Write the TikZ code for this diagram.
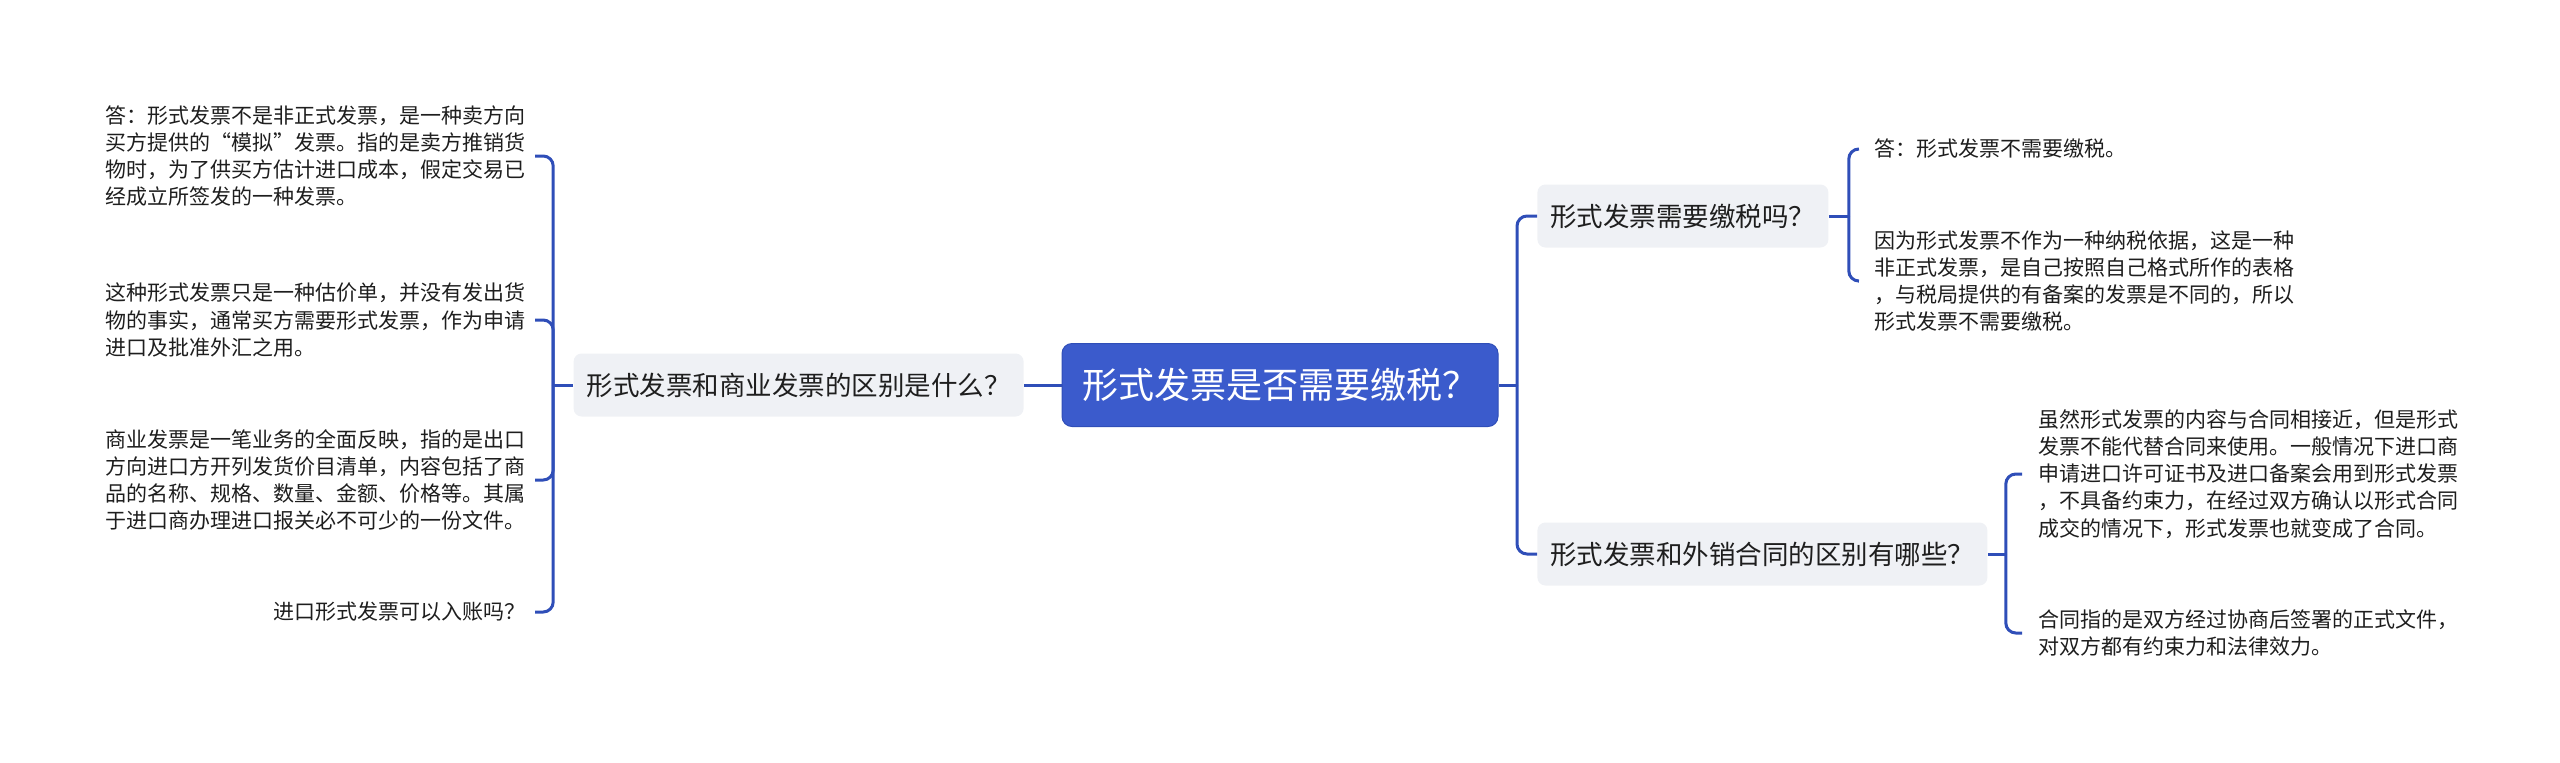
\documentclass[tikz,border=0pt]{standalone}
\usepackage{fontspec}
\newfontfamily\cjk{Noto Sans CJK SC}
\definecolor{mapblue}{RGB}{59,91,204}
\definecolor{linkblue}{RGB}{47,78,184}
\definecolor{subgray}{RGB}{239,241,245}
\definecolor{inktext}{RGB}{30,30,30}

\begin{document}
\begin{tikzpicture}[x=0.5pt,y=-0.5pt,
    link/.style={draw=linkblue,line width=1.5pt,rounded corners=5pt},
    rootbox/.style={fill=mapblue,draw=linkblue,line width=0.5pt,text=white,rounded corners=5pt,font=\cjk\fontsize{18}{22}\selectfont,inner xsep=10pt,minimum height=41.5pt},
    subbox/.style={fill=subgray,text=inktext,rounded corners=4pt,font=\cjk\fontsize{13.25}{16}\selectfont,inner xsep=6.5pt,minimum height=31.5pt},
    leaf/.style={text=inktext,font=\cjk\fontsize{10.5}{13.6}\selectfont,inner ysep=2pt,align=left},
    lleaf/.style={leaf,anchor=east,inner xsep=4.5pt},
    rleaf/.style={leaf,anchor=west,inner xsep=8pt}]
    \useasboundingbox (0,0) rectangle (2560,762);

    \node[rootbox] (root) at (1280,385) {形式发票是否需要缴税？};
    \node[subbox,anchor=east] (cmp) at (1024,385) {形式发票和商业发票的区别是什么？};
    \node[subbox,anchor=west] (tax) at (1537,216) {形式发票需要缴税吗？};
    \node[subbox,anchor=west] (ctr) at (1537,554) {形式发票和外销合同的区别有哪些？};

    \node[lleaf] (a1) at (535,156) {答：形式发票不是非正式发票，是一种卖方向\\买方提供的“模拟”发票。指的是卖方推销货\\物时，为了供买方估计进口成本，假定交易已\\经成立所签发的一种发票。};
    \node[lleaf] (a2) at (535,320) {这种形式发票只是一种估价单，并没有发出货\\物的事实，通常买方需要形式发票，作为申请\\进口及批准外汇之用。};
    \node[lleaf] (a3) at (535,480) {商业发票是一笔业务的全面反映，指的是出口\\方向进口方开列发货价目清单，内容包括了商\\品的名称、规格、数量、金额、价格等。其属\\于进口商办理进口报关必不可少的一份文件。};
    \node[lleaf] (a4) at (535,612) {进口形式发票可以入账吗？};

    \node[rleaf] (b1) at (1858,149) {答：形式发票不需要缴税。};
    \node[rleaf] (b2) at (1858,281) {因为形式发票不作为一种纳税依据，这是一种\\非正式发票，是自己按照自己格式所作的表格\\，与税局提供的有备案的发票是不同的，所以\\形式发票不需要缴税。};
    \node[rleaf] (c1) at (2022,474) {虽然形式发票的内容与合同相接近，但是形式\\发票不能代替合同来使用。一般情况下进口商\\申请进口许可证书及进口备案会用到形式发票\\，不具备约束力，在经过双方确认以形式合同\\成交的情况下，形式发票也就变成了合同。};
    \node[rleaf] (c2) at (2022,633) {合同指的是双方经过协商后签署的正式文件，\\对双方都有约束力和法律效力。};

    \coordinate (lj) at ([xshift=-10pt]cmp.west);
    \coordinate (rj) at (1517,385);
    \coordinate (tj) at ([xshift=10pt]tax.east);
    \coordinate (cj) at ([xshift=9pt]ctr.east);

    \draw[link] (root.west) -- (cmp.east);
    \draw[link] (cmp.west) -- (lj);
    \foreach \n in {a1,a2,a3,a4} \draw[link] (lj) |- (\n.east);

    \draw[link] (root.east) -- (rj);
    \draw[link] (rj) |- (tax.west);
    \draw[link] (rj) |- (ctr.west);

    \draw[link] (tax.east) -- (tj);
    \foreach \n in {b1,b2} \draw[link] (tj) |- (\n.west);
    \draw[link] (ctr.east) -- (cj);
    \foreach \n in {c1,c2} \draw[link] (cj) |- (\n.west);
\end{tikzpicture}
\end{document}
